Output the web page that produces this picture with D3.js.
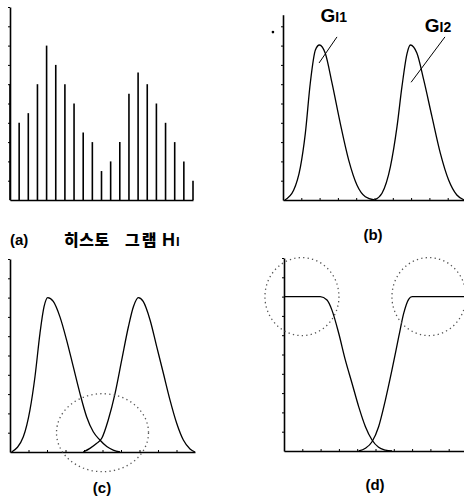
<!DOCTYPE html>
<html>
<head>
<meta charset="utf-8">
<script src="https://cdn.jsdelivr.net/npm/d3@7"></script>
<style>
  body { margin: 0; background: #fff; }
  svg { display: block; }
  .cap { font-family: "Liberation Sans", Arial, sans-serif; font-weight: bold; fill: #000; }
  .kr { font-family: "Noto Sans CJK KR", sans-serif; font-weight: 900; fill: #000; }
</style>
</head>
<body>
<svg width="464" height="502"></svg>
<script>
// (a) histogram H_I, one bar per grey level bin
const histBins = d3.range(21)
const histValues = [6, 4, 4.5, 6, 8, 7, 6, 5, 3.5, 3, 1.5, 2, 3, 5.5, 6.6, 6, 5, 4, 3, 2, 1]

// (b) fitted gaussians G_I1, G_I2  [x, y]
const g1b = [[0.1,0],[0.58,0.5],[0.95,1.7],[1.22,3.45],[1.49,6.05],[1.77,7.77],[1.99,8.03],[2.31,7.6],[2.68,6.05],[3.13,3.97],[3.59,2.07],[4.04,0.78],[4.5,0.17],[5.0,0]]
const g2b = [[5.0,0],[5.41,0.35],[5.87,1.73],[6.23,3.8],[6.5,5.87],[6.78,7.6],[6.96,8.03],[7.32,7.6],[7.69,6.22],[8.14,4.32],[8.6,2.42],[9.05,1.04],[9.5,0.26],[9.9,0]]

// (c) overlapping gaussians
const g1c = [[0.09,0],[0.72,0.79],[1.08,2.18],[1.35,3.9],[1.62,6.15],[1.84,7.53],[2.04,8.0],[2.34,7.8],[2.7,7.0],[3.06,5.8],[3.42,4.42],[3.78,3.04],[4.14,1.83],[4.5,1.05],[4.86,0.62],[5.23,0.28],[5.58,0.1],[5.95,0]]
const g2c = [[3.96,0],[4.32,0.19],[4.69,0.45],[4.96,0.71],[5.31,1.66],[5.68,3.04],[6.04,4.77],[6.4,6.49],[6.67,7.53],[6.94,8.0],[7.2,7.8],[7.57,6.84],[7.93,5.46],[8.29,4.08],[8.65,2.69],[9.01,1.49],[9.37,0.62],[9.73,0.16],[10,0]]

// (d) saturated membership curves
const g1d = [[0,8],[1.98,8],[2.35,7.82],[2.62,7.3],[2.99,6.1],[3.35,4.72],[3.72,3.5],[4.08,2.3],[4.45,1.26],[4.81,0.57],[5.17,0.19],[5.54,0.05],[5.9,0]]
const g2d = [[4.08,0],[4.45,0.14],[4.81,0.48],[5.17,1.26],[5.54,2.64],[5.9,4.2],[6.27,5.92],[6.54,7.13],[6.81,7.86],[7.0,8],[9.9,8]]

// dotted circles [cx, cy] in data units
const circlesC = [[5.0, 1.0]]
const circlesD = [[0.98, 8.0], [7.92, 8.0]]

const svg = d3.select('svg')

// draws y axis (small ticks, no labels) and x axis baseline
function drawAxes(x, y, yTop, xTicks){
    const ya = y.copy().domain([0, yTop]).range([y(0), y(yTop)])
    svg.append('g')
        .attr('transform', `translate(${x(0)},0)`)
        .call(d3.axisLeft(ya).tickValues(d3.range(1, Math.floor(yTop) + 1)).tickSize(2).tickSizeOuter(0).tickFormat(''))
        .call(g => g.select('.domain').attr('stroke-width', 1.6))
    const xa = svg.append('g')
        .attr('transform', `translate(0,${y(0)})`)
        .call(d3.axisBottom(x).tickValues(xTicks).tickSize(2).tickSizeOuter(0).tickFormat(''))
    xa.select('.domain').attr('stroke-width', 1.6)
    xa.selectAll('.tick line').attr('transform', 'translate(0,-2)')
}

function drawCurve(data, x, y){
    const line = d3.line()
        .x(d => x(d[0]))
        .y(d => y(d[1]))
        .curve(d3.curveMonotoneX)
    svg.append('path')
        .datum(data)
        .attr('d', line)
        .attr('fill', 'none')
        .attr('stroke', '#000')
        .attr('stroke-width', 1.3)
}

function drawRings(data, x, y, rx, ry){
    svg.append('g').selectAll('ellipse')
        .data(data)
        .join('ellipse')
        .attr('cx', d => x(d[0]))
        .attr('cy', d => y(d[1]))
        .attr('rx', rx)
        .attr('ry', ry)
        .attr('fill', 'none')
        .attr('stroke', '#555')
        .attr('stroke-width', 1.3)
        .attr('stroke-dasharray', '1.3,3.2')
}

// ---------- (a)
const xA = d3.scaleLinear().domain([0, 20]).range([10, 193])
const yA = d3.scaleLinear().domain([0, 10]).range([200, 7])
drawAxes(xA, yA, 10, [])
svg.append('g').selectAll('line')
    .data(histBins)
    .join('line')
    .attr('x1', d => xA(d)).attr('x2', d => xA(d))
    .attr('y1', yA(0)).attr('y2', (d, i) => yA(histValues[i]))
    .attr('stroke', '#000')
    .attr('stroke-width', 1.6)

const capA = svg.append('g')
capA.append('text').attr('class', 'cap').attr('x', 10).attr('y', 245).attr('font-size', 15).text('(a)')
capA.append('text').attr('class', 'kr').attr('x', 64).attr('y', 246).attr('font-size', 16).attr('letter-spacing', 0.5).text('히스토')
capA.append('text').attr('class', 'kr').attr('x', 125).attr('y', 246).attr('font-size', 16).attr('letter-spacing', 2).text('그램')
capA.append('text').attr('class', 'cap').attr('x', 162).attr('y', 246).attr('font-size', 18).text('H')
capA.append('text').attr('class', 'cap').attr('x', 176).attr('y', 246).attr('font-size', 13).text('I')

// ---------- (b)
const xB = d3.scaleLinear().domain([0, 10]).range([283, 466])
const yB = d3.scaleLinear().domain([0, 10]).range([200, 7])
drawAxes(xB, yB, 9.6, d3.range(1, 10))
drawCurve(g1b, xB, yB)
drawCurve(g2b, xB, yB)
svg.append('circle').attr('cx', xB(-0.55)).attr('cy', yB(8.7)).attr('r', 1.3).attr('fill', '#000')

const labelsB = [
    {sub: '1', x: 2.05, y: 9.2, from: [2.95, 8.45], to: [1.97, 7.1]},
    {sub: '2', x: 7.75, y: 8.7, from: [8.85, 8.45], to: [7.0, 6.1]}
]
labelsB.forEach(l => {
    const t = svg.append('text').attr('class', 'cap').attr('x', xB(l.x)).attr('y', yB(l.y))
    t.append('tspan').attr('font-size', 19).text('G')
    t.append('tspan').attr('font-size', 14).text('I' + l.sub)
    svg.append('line')
        .attr('x1', xB(l.from[0])).attr('y1', yB(l.from[1]))
        .attr('x2', xB(l.to[0])).attr('y2', yB(l.to[1]))
        .attr('stroke', '#000').attr('stroke-width', 1)
})
svg.append('text').attr('class', 'cap').attr('x', 373).attr('y', 240).attr('text-anchor', 'middle').attr('font-size', 15).text('(b)')

// ---------- (c)
const xC = d3.scaleLinear().domain([0, 10]).range([10, 195])
const yC = d3.scaleLinear().domain([0, 10]).range([452, 259])
drawAxes(xC, yC, 10, d3.range(1, 10))
drawCurve(g1c, xC, yC)
drawCurve(g2c, xC, yC)
drawRings(circlesC, xC, yC, 46, 39)
svg.append('text').attr('class', 'cap').attr('x', 102).attr('y', 493).attr('text-anchor', 'middle').attr('font-size', 15).text('(c)')

// ---------- (d)
const xD = d3.scaleLinear().domain([0, 10]).range([284, 467])
const yD = d3.scaleLinear().domain([0, 10]).range([451, 258])
drawAxes(xD, yD, 10, d3.range(1, 10))
drawCurve(g1d, xD, yD)
drawCurve(g2d, xD, yD)
drawRings(circlesD, xD, yD, 37, 39)
svg.append('text').attr('class', 'cap').attr('x', 375).attr('y', 490).attr('text-anchor', 'middle').attr('font-size', 15).text('(d)')
</script>
</body>
</html>
